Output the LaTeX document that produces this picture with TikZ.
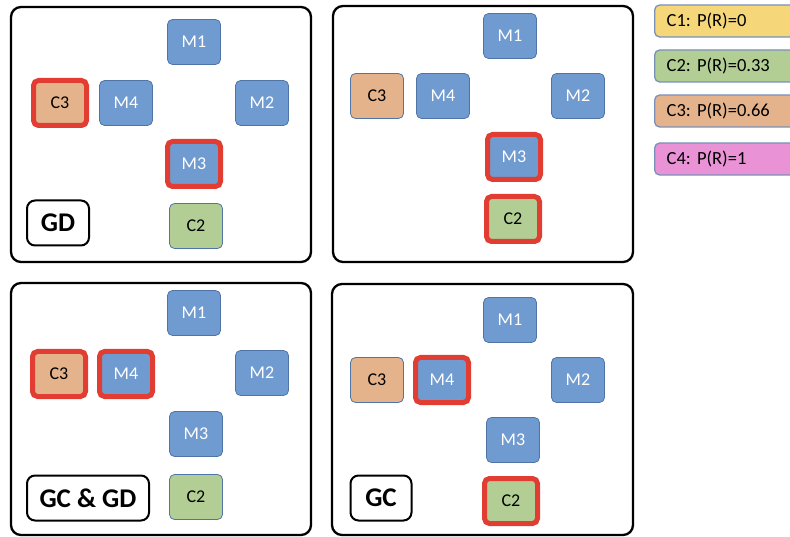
\documentclass[tikz,border=0pt]{standalone}
\usepackage{fontspec}
\setmainfont{Carlito}
\frenchspacing
\definecolor{mblue}{RGB}{112,155,208}
\definecolor{bord}{RGB}{80,116,166}
\definecolor{cgreen}{RGB}{179,206,148}
\definecolor{corange}{RGB}{229,179,139}
\definecolor{cyellow}{RGB}{245,215,122}
\definecolor{cpink}{RGB}{234,146,214}
\definecolor{hlred}{RGB}{226,61,50}
\definecolor{lbord}{RGB}{120,145,185}
\tikzset{
  box/.style={rounded corners=5pt, minimum width=53pt, minimum height=45pt, draw=bord, line width=0.8pt, inner sep=0pt, font=\fontsize{18}{21}\selectfont},
  mnode/.style={box, fill=mblue, text=white},
  gnode/.style={box, fill=cgreen, text=black},
  onode/.style={box, fill=corange, text=black},
  hl/.style={draw=hlred, line width=5pt},
  frame/.style={draw=black, line width=2.3pt, rounded corners=10pt},
  tag/.style={draw=black, line width=2pt, rounded corners=8pt, minimum height=45pt, inner xsep=6pt, font=\fontsize{27}{31}\selectfont\bfseries},
  legend/.style={draw=lbord, line width=1.3pt, rounded corners=5pt, anchor=west, minimum height=32pt, text width=150pt, inner xsep=12pt, align=left, font=\fontsize{18.5}{22}\selectfont}
}
\begin{document}
\begin{tikzpicture}[x=1pt,y=-1pt]
\useasboundingbox (0,0) rectangle (790,537);
\clip (0,0) rectangle (790,537);
% frames
\draw[frame] (11,7) rectangle (311,262);
\draw[frame] (333,6) rectangle (633,262);
\draw[frame] (11,283) rectangle (311,535);
\draw[frame] (332,284) rectangle (633,535);
% panel 1 (GD)
\node[mnode] (a1) at (194,42) {M1};
\node[mnode] (a4) at (126,103) {M4};
\node[mnode] (a2) at (262,103) {M2};
\node[onode,hl] (a5) at (60,103) {C3};
\node[mnode,hl] (a3) at (194,164) {M3};
\node[gnode] (a6) at (196,226) {C2};
\node[tag, minimum width=62pt] (at) at (58,223) {GD};
% panel 2
\node[mnode] (b1) at (510,36) {M1};
\node[onode] (b5) at (377,96) {C3};
\node[mnode] (b4) at (443,96) {M4};
\node[mnode] (b2) at (578,96) {M2};
\node[mnode,hl] (b3) at (514,157) {M3};
\node[gnode,hl] (b6) at (513,219) {C2};
% panel 3 (GC & GD)
\node[mnode] (c1) at (194,313) {M1};
\node[onode,hl] (c5) at (59,374) {C3};
\node[mnode,hl] (c4) at (126,374) {M4};
\node[mnode] (c2) at (262,373) {M2};
\node[mnode] (c3) at (196,434) {M3};
\node[gnode] (c6) at (196,497) {C2};
\node[tag, minimum width=122pt] (ct) at (88,498) {GC \& GD};
% panel 4 (GC)
\node[mnode] (d1) at (510,320) {M1};
\node[onode] (d5) at (377,380) {C3};
\node[mnode,hl] (d4) at (442,380) {M4};
\node[mnode] (d2) at (578,380) {M2};
\node[mnode] (d3) at (513,440) {M3};
\node[gnode,hl] (d6) at (511,501) {C2};
\node[tag, minimum width=61pt] (dt) at (381,498) {GC};
% legend
\node[legend, fill=cyellow] (l1) at (654,21) {C1: P(R)=0};
\node[legend, fill=cgreen] (l2) at (654,66) {C2: P(R)=0.33};
\node[legend, fill=corange] (l3) at (654,111) {C3: P(R)=0.66};
\node[legend, fill=cpink] (l4) at (654,159) {C4: P(R)=1};
\end{tikzpicture}
\end{document}
